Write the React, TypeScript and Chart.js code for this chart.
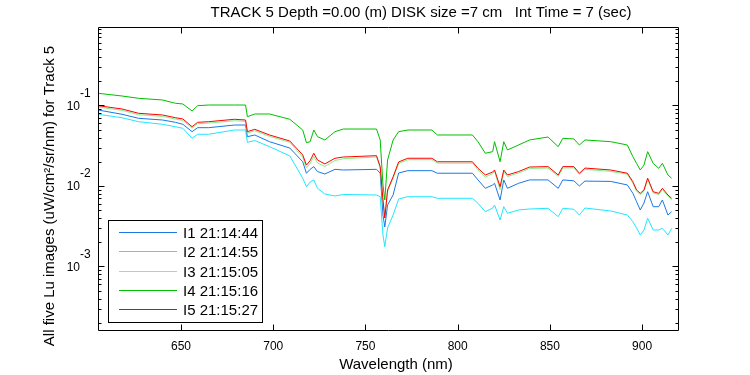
import React, { useEffect, useRef } from "react";
import { Chart, registerables } from "chart.js";

Chart.register(...registerables);

const wavelengths = [605, 618, 627, 640, 647, 651, 656, 659, 665, 679, 685, 686, 690, 698, 709, 716, 718, 720, 722, 724, 728, 733.5, 738, 756, 758, 759.5, 760.5, 762, 765, 768, 773, 786, 789, 808, 811, 815, 819, 820, 823, 825, 827, 833, 839, 849, 854.5, 857, 863, 866, 869, 883, 892, 895, 897, 899, 901, 903, 906, 909, 911, 914, 916];

const i1Values = [0.0879, 0.0778, 0.0693, 0.066, 0.0618, 0.0584, 0.0473, 0.053, 0.053, 0.0572, 0.0572, 0.041, 0.043, 0.0355, 0.0296, 0.02, 0.0144, 0.0161, 0.0174, 0.0151, 0.0141, 0.0161, 0.0158, 0.0161, 0.0144, 0.00436, 0.0031, 0.00581, 0.00773, 0.0145, 0.0155, 0.0155, 0.0144, 0.0144, 0.0119, 0.00936, 0.0103, 0.0108, 0.0067, 0.0119, 0.00936, 0.0108, 0.0119, 0.0119, 0.00936, 0.0119, 0.0116, 0.01, 0.0115, 0.0114, 0.0103, 0.00811, 0.00638, 0.00503, 0.00615, 0.00849, 0.00553, 0.00553, 0.0067, 0.00436, 0.00479];

const i2Values = [0.0778, 0.0705, 0.0629, 0.0584, 0.0545, 0.0521, 0.0391, 0.0439, 0.0439, 0.0496, 0.0496, 0.0349, 0.0367, 0.0308, 0.0236, 0.0125, 0.0098, 0.0112, 0.0119, 0.00936, 0.00795, 0.00751, 0.00784, 0.00773, 0.00736, 0.00246, 0.00176, 0.00301, 0.00436, 0.00689, 0.00736, 0.00736, 0.00703, 0.00703, 0.0061, 0.00479, 0.00533, 0.00581, 0.00378, 0.00553, 0.00458, 0.00503, 0.00518, 0.00528, 0.00416, 0.00528, 0.00514, 0.00436, 0.00533, 0.00489, 0.00436, 0.0036, 0.00301, 0.00246, 0.00284, 0.00397, 0.00284, 0.00284, 0.00298, 0.00246, 0.00298];

const i3Values = [0.0955, 0.087, 0.0768, 0.0732, 0.0677, 0.0653, 0.0523, 0.0593, 0.0604, 0.0647, 0.0634, 0.0454, 0.0486, 0.0413, 0.0348, 0.0228, 0.0168, 0.019, 0.0232, 0.0193, 0.0175, 0.0207, 0.0218, 0.0229, 0.0167, 0.0064, 0.0042, 0.0085, 0.0125, 0.0191, 0.0212, 0.0212, 0.0192, 0.0192, 0.0159, 0.0129, 0.0143, 0.0152, 0.009, 0.015, 0.0131, 0.0145, 0.0165, 0.0167, 0.0132, 0.0167, 0.0168, 0.0139, 0.0161, 0.0152, 0.014, 0.0108, 0.0086, 0.0078, 0.0086, 0.012, 0.0082, 0.0078, 0.009, 0.0075, 0.0068];

const i4Values = [0.1418, 0.1312, 0.1228, 0.117, 0.1065, 0.1044, 0.0855, 0.0994, 0.1014, 0.1014, 0.1014, 0.0726, 0.0784, 0.0784, 0.0674, 0.0496, 0.0345, 0.0355, 0.0496, 0.041, 0.0373, 0.0473, 0.051, 0.051, 0.0373, 0.0103, 0.0067, 0.021, 0.0373, 0.0473, 0.0496, 0.0496, 0.043, 0.043, 0.0355, 0.0255, 0.0267, 0.0355, 0.02, 0.0355, 0.028, 0.0323, 0.0373, 0.0406, 0.0308, 0.0391, 0.0384, 0.0323, 0.0373, 0.0355, 0.0323, 0.0231, 0.0191, 0.0158, 0.0182, 0.0267, 0.0191, 0.0166, 0.0191, 0.0137, 0.0125];

const i5Values = [0.0994, 0.0905, 0.08, 0.0762, 0.0705, 0.068, 0.0545, 0.0618, 0.0629, 0.0674, 0.066, 0.0473, 0.0506, 0.043, 0.0362, 0.0243, 0.0182, 0.0206, 0.0255, 0.021, 0.0188, 0.0221, 0.0229, 0.0238, 0.0174, 0.0067, 0.004, 0.00892, 0.013, 0.0199, 0.0221, 0.0221, 0.02, 0.02, 0.0166, 0.0137, 0.0149, 0.0158, 0.0098, 0.0158, 0.0137, 0.0151, 0.0172, 0.0174, 0.0137, 0.0174, 0.0174, 0.0144, 0.0167, 0.0158, 0.0144, 0.0113, 0.00892, 0.00811, 0.00892, 0.0125, 0.00849, 0.00811, 0.00936, 0.00773, 0.00703];

const seriesLabels = ["I1 21:14:44", "I2 21:14:55", "I3 21:15:05", "I4 21:15:16", "I5 21:15:27"];
const seriesColors = ["#1a78e8", "#22e6ff", "#88f088", "#00c000", "#ff0000"];
const seriesValues = [i1Values, i2Values, i3Values, i4Values, i5Values];
const seriesOrder = [3, 4, 2, 1, 0];

const xTickValues = [650, 700, 750, 800, 850, 900];
const yMajorExponents = [-1, -2, -3];

const titleText = "TRACK 5 Depth =0.00 (m) DISK size =7 cm   Int Time = 7 (sec)";
const xAxisTitle = "Wavelength (nm)";
const yAxisTitle = "All five Lu images (uW/cm\u00B2/sr/nm) for Track 5";

const FONT = '"Liberation Sans", Arial, Helvetica, sans-serif';

const matlabPlugin = {
  id: "matlabDecor",
  beforeDraw(chart: any) {
    const ctx = chart.ctx;
    ctx.save();
    ctx.fillStyle = "#ffffff";
    ctx.fillRect(0, 0, chart.width, chart.height);
    ctx.restore();
  },
  afterDatasetsDraw(chart: any) {
    const ctx = chart.ctx;
    const area = chart.chartArea;
    const xs = chart.scales.x;
    const ys = chart.scales.y;
    const L = Math.round(area.left) + 0.5;
    const R = Math.round(area.right) - 0.5;
    const T = Math.round(area.top) + 0.5;
    const B = Math.round(area.bottom) - 0.5;
    ctx.save();
    ctx.strokeStyle = "#000";
    ctx.lineWidth = 1;
    ctx.beginPath();
    ctx.rect(L, T, R - L, B - T);
    ctx.stroke();

    // x ticks
    ctx.beginPath();
    xTickValues.forEach((v) => {
      const px = Math.round(xs.getPixelForValue(v)) + 0.5;
      ctx.moveTo(px, B);
      ctx.lineTo(px, B - 6);
      ctx.moveTo(px, T);
      ctx.lineTo(px, T + 6);
    });
    // y ticks
    const yMin = ys.min;
    const yMax = ys.max;
    for (let k = -5; k <= 0; k++) {
      for (let m = 1; m <= 9; m++) {
        const v = m * Math.pow(10, k);
        if (v < yMin || v > yMax) continue;
        const py = Math.round(ys.getPixelForValue(v)) + 0.5;
        const len = m === 1 ? 6 : 3;
        ctx.moveTo(L, py);
        ctx.lineTo(L + len, py);
        ctx.moveTo(R, py);
        ctx.lineTo(R - len, py);
      }
    }
    ctx.stroke();

    ctx.fillStyle = "#000";
    // x tick labels
    ctx.font = "12px " + FONT;
    ctx.textAlign = "center";
    ctx.textBaseline = "alphabetic";
    xTickValues.forEach((v) => {
      const px = xs.getPixelForValue(v);
      ctx.fillText(String(v), px, 350);
    });
    // y tick labels
    yMajorExponents.forEach((e) => {
      const py = ys.getPixelForValue(Math.pow(10, e));
      ctx.font = "12px " + FONT;
      ctx.textAlign = "right";
      ctx.fillText("10", 80, py + 4.5);
      ctx.textAlign = "left";
      ctx.fillText(String(e), 80, py - 8.5);
    });

    // title
    ctx.font = "15px " + FONT;
    ctx.textAlign = "center";
    ctx.fillText(titleText, 421, 17);
    // x title
    ctx.fillText(xAxisTitle, 396, 369);
    // y title
    ctx.save();
    ctx.translate(54, 196);
    ctx.rotate(-Math.PI / 2);
    ctx.textAlign = "center";
    ctx.fillText(yAxisTitle, 0, 0);
    ctx.restore();

    // legend
    const lx = 108.5, ly = 220.5, lw = 154, lh = 102;
    ctx.fillStyle = "#fff";
    ctx.fillRect(lx, ly, lw, lh);
    ctx.strokeStyle = "#000";
    ctx.strokeRect(lx, ly, lw, lh);
    ctx.font = "15px " + FONT;
    ctx.textAlign = "left";
    ctx.textBaseline = "middle";
    chart.data.datasets.forEach((ds: any, i: number) => {
      const rowY = Math.round(232 + i * 19.3) + 0.5;
      ctx.strokeStyle = ds.borderColor;
      ctx.beginPath();
      ctx.moveTo(119, rowY);
      ctx.lineTo(177, rowY);
      ctx.stroke();
      ctx.fillStyle = "#000";
      ctx.fillText(ds.label, 183, rowY + 1);
    });
    ctx.restore();
  },
};

export default function App() {
  const canvasRef = useRef<HTMLCanvasElement | null>(null);

  useEffect(() => {
    const canvas = canvasRef.current;
    if (!canvas) return;
    const datasets = seriesValues.map((vals, i) => ({
      label: seriesLabels[i],
      data: wavelengths.map((w, j) => ({ x: w, y: vals[j] })),
      borderColor: seriesColors[i],
      backgroundColor: seriesColors[i],
      borderWidth: 1,
      pointRadius: 0,
      tension: 0,
      fill: false,
      order: seriesOrder[i],
    }));
    const chart = new Chart(canvas, {
      type: "line",
      data: { datasets },
      options: {
        responsive: false,
        animation: false,
        devicePixelRatio: 1,
        layout: { padding: { left: 98, top: 27, right: 71, bottom: 44 } },
        plugins: {
          legend: { display: false },
          title: { display: false },
          tooltip: { enabled: false },
        },
        scales: {
          x: { type: "linear", min: 605, max: 920, display: false },
          y: { type: "logarithmic", min: 1.58e-4, max: 0.944, display: false },
        },
      },
      plugins: [matlabPlugin],
    } as any);
    return () => chart.destroy();
  }, []);

  return (
    <div style={{ position: "absolute", left: 0, top: 0, width: 750, height: 375, background: "#fff" }}>
      <canvas ref={canvasRef} width={750} height={375} style={{ width: 750, height: 375, display: "block" }} />
    </div>
  );
}
